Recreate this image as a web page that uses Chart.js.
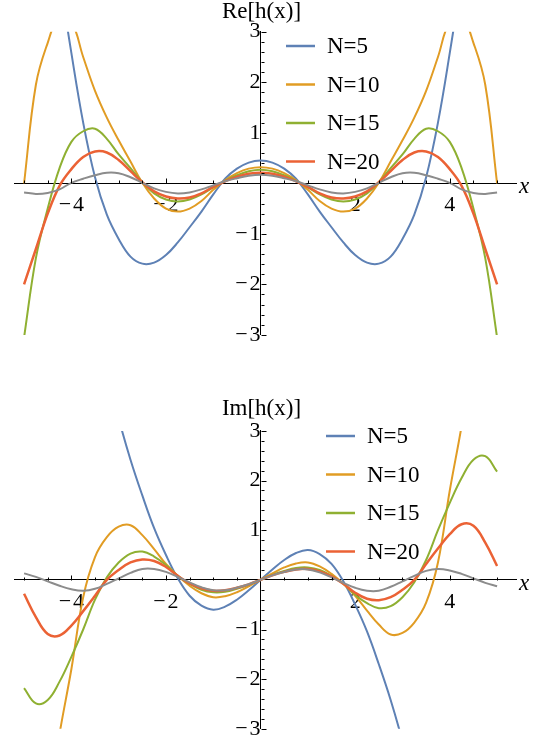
<!DOCTYPE html>
<html lang="en">
<head>
  <meta charset="UTF-8" />
  <title>Re[h(x)] and Im[h(x)]</title>
  <script src="https://cdn.jsdelivr.net/npm/chart.js"></script>
  <style>
    * { margin: 0; padding: 0; box-sizing: border-box; }
    body { background: #fff; width: 541px; height: 748px; overflow: hidden; }
    .panel { position: absolute; left: 0; }
    #reChart { top: 0; }
    #imChart { top: 374px; }
  </style>
</head>
<body>
  <canvas id="reChart" class="panel" width="541" height="374"></canvas>
  <canvas id="imChart" class="panel" width="541" height="374"></canvas>

  <script>
    // sample positions on the x axis
    const xs = [-5, -4.75, -4.5, -4.25, -4, -3.75, -3.5, -3.25, -3, -2.75, -2.5, -2.25, -2, -1.75, -1.5, -1.25, -1, -0.75, -0.5, -0.25,
      0, 0.25, 0.5, 0.75, 1, 1.25, 1.5, 1.75, 2, 2.25, 2.5, 2.75, 3, 3.25, 3.5, 3.75, 4, 4.25, 4.5, 4.75, 5];

    const seriesLabels = ['N=5', 'N=10', 'N=15', 'N=20', ''];
    const seriesColors = ['#5e81b5', '#e19c24', '#8fb032', '#eb6235', '#8c8c8c'];
    const xTickValues = [-4, -2, 2, 4];
    const yTickValues = [-3, -2, -1, 1, 2, 3];

    // Re[h(x)]
    const reN5 = [11, 8, 5.8, 4.1, 2.58, 1.2, 0.12, -0.62, -1.1, -1.45, -1.59, -1.57, -1.42, -1.17, -0.87, -0.56, -0.22, 0.09, 0.29, 0.41,
      0.45, 0.41, 0.29, 0.09, -0.22, -0.56, -0.87, -1.17, -1.42, -1.57, -1.59, -1.45, -1.1, -0.62, 0.12, 1.2, 2.58, 4.1, 5.8, 8, 11];
    const reN10 = [0, 1.95, 2.78, 3.3, 3.2, 2.5, 1.83, 1.3, 0.85, 0.43, 0.01, -0.3, -0.5, -0.56, -0.5, -0.35, -0.13, 0.06, 0.2, 0.29,
      0.32, 0.29, 0.2, 0.06, -0.13, -0.35, -0.5, -0.56, -0.5, -0.3, 0.01, 0.43, 0.85, 1.3, 1.83, 2.5, 3.2, 3.3, 2.78, 1.95, 0];
    const reN15 = [-3.05, -1.48, -0.5, 0.3, 0.82, 1.03, 1.08, 0.88, 0.57, 0.3, 0.02, -0.2, -0.32, -0.36, -0.32, -0.22, -0.08, 0.05, 0.16, 0.24,
      0.27, 0.24, 0.16, 0.05, -0.08, -0.22, -0.32, -0.36, -0.32, -0.2, 0.02, 0.3, 0.57, 0.88, 1.08, 1.03, 0.82, 0.3, -0.5, -1.48, -3.05];
    const reN20 = [-2.0, -1.3, -0.6, -0.05, 0.28, 0.52, 0.63, 0.61, 0.46, 0.24, 0.02, -0.16, -0.26, -0.3, -0.28, -0.2, -0.07, 0.04, 0.13, 0.19,
      0.21, 0.19, 0.13, 0.04, -0.07, -0.2, -0.28, -0.3, -0.26, -0.16, 0.02, 0.24, 0.46, 0.61, 0.63, 0.52, 0.28, -0.05, -0.6, -1.3, -2.0];
    const reExact = [-0.18, -0.21, -0.19, -0.12, 0.01, 0.09, 0.16, 0.21, 0.2, 0.12, 0.01, -0.1, -0.17, -0.2, -0.18, -0.12, -0.04, 0.04, 0.1, 0.15,
      0.17, 0.15, 0.1, 0.04, -0.04, -0.12, -0.18, -0.2, -0.17, -0.1, 0.01, 0.12, 0.2, 0.21, 0.16, 0.09, 0.01, -0.12, -0.19, -0.21, -0.18];

    // Im[h(x)]
    const imN5 = [15.6, 13.4, 11.4, 9.6, 8.0, 6.6, 5.3, 4.2, 3.25, 2.42, 1.7, 1.04, 0.5, 0.03, -0.32, -0.52, -0.6, -0.54, -0.4, -0.21,
      0, 0.21, 0.4, 0.54, 0.6, 0.52, 0.32, -0.03, -0.5, -1.04, -1.7, -2.42, -3.25, -4.2, -5.3, -6.6, -8.0, -9.6, -11.4, -13.4, -15.6];
    const imN10 = [-8.0, -6.2, -4.6, -3.1, -1.8, -0.35, 0.46, 0.86, 1.07, 1.1, 0.9, 0.62, 0.32, 0.08, -0.12, -0.27, -0.35, -0.33, -0.25, -0.13,
      0, 0.13, 0.25, 0.33, 0.35, 0.27, 0.12, -0.08, -0.32, -0.62, -0.9, -1.1, -1.07, -0.86, -0.46, 0.35, 1.8, 3.1, 4.6, 6.2, 8.0];
    const imN15 = [-2.18, -2.49, -2.42, -2.05, -1.55, -1.0, -0.4, 0.05, 0.35, 0.53, 0.57, 0.47, 0.3, 0.08, -0.08, -0.2, -0.25, -0.24, -0.18, -0.1,
      0, 0.1, 0.18, 0.24, 0.25, 0.2, 0.08, -0.08, -0.3, -0.47, -0.57, -0.53, -0.35, -0.05, 0.4, 1.0, 1.55, 2.05, 2.42, 2.49, 2.18];
    const imN20 = [-0.28, -0.75, -1.09, -1.12, -0.92, -0.63, -0.32, 0, 0.2, 0.35, 0.41, 0.38, 0.26, 0.08, -0.07, -0.17, -0.22, -0.21, -0.16, -0.09,
      0, 0.09, 0.16, 0.21, 0.22, 0.17, 0.07, -0.08, -0.26, -0.38, -0.41, -0.35, -0.2, 0, 0.32, 0.63, 0.92, 1.12, 1.09, 0.75, 0.28];
    const imExact = [0.13, 0.06, -0.03, -0.12, -0.19, -0.22, -0.18, -0.08, 0.03, 0.14, 0.22, 0.22, 0.16, 0.06, -0.05, -0.15, -0.21, -0.21, -0.16, -0.09,
      0, 0.09, 0.16, 0.21, 0.21, 0.15, 0.05, -0.06, -0.16, -0.22, -0.22, -0.14, -0.03, 0.08, 0.18, 0.22, 0.19, 0.12, 0.03, -0.06, -0.13];

    // a single family name: a fallback list ends up sans here
    const serif = "'Liberation Serif'";
    const minus = v => (v < 0 ? '\u2212\u200a' + Math.abs(v) : String(v));

    // Mathematica style: inward ticks, axis title on top, "x" label, line legend
    const axisDecor = {
      id: 'axisDecor',
      afterDraw(chart, args, opts) {
        const { ctx, chartArea, scales: { x, y } } = chart;
        const x0 = Math.round(x.getPixelForValue(0)) + 0.5;
        const y0 = Math.round(y.getPixelForValue(0)) + 0.5;
        ctx.save();
        ctx.strokeStyle = '#000';
        ctx.lineWidth = 1;
        ctx.beginPath();
        for (let i = -10; i <= 10; i++) {
          if (i === 0) continue;
          const px = Math.round(x.getPixelForValue(i / 2)) + 0.5;
          const len = i % 4 === 0 ? 5 : 3;
          ctx.moveTo(px, y0);
          ctx.lineTo(px, y0 - len);
        }
        for (let j = -15; j <= 15; j++) {
          if (j === 0) continue;
          const py = Math.round(y.getPixelForValue(j / 5)) + 0.5;
          const len = j % 5 === 0 ? 5 : 3;
          ctx.moveTo(x0, py);
          ctx.lineTo(x0 + len, py);
        }
        ctx.stroke();

        ctx.fillStyle = '#000';
        ctx.font = '23px ' + serif;
        ctx.textAlign = 'center';
        ctx.textBaseline = 'middle';
        ctx.fillText(opts.title, x0, opts.titleY);

        ctx.font = 'italic 23px ' + serif;
        ctx.textAlign = 'left';
        ctx.fillText('x', chartArea.right + 3, y0 + 3);

        // legend
        ctx.font = '23px ' + serif;
        let k = 0;
        chart.data.datasets.forEach(ds => {
          if (!ds.label) return;
          const ly = opts.legendY + k * 38.5;
          ctx.strokeStyle = ds.borderColor;
          ctx.lineWidth = 2.5;
          ctx.beginPath();
          ctx.moveTo(opts.legendX, ly);
          ctx.lineTo(opts.legendX + 29, ly);
          ctx.stroke();
          ctx.fillText(ds.label, opts.legendX + 41, ly + 1);
          k++;
        });
        ctx.restore();
      }
    };

    function makeDatasets(arrs) {
      return arrs.map((arr, i) => ({
        label: seriesLabels[i],
        data: xs.map((xv, k) => ({ x: xv, y: arr[k] })),
        borderColor: seriesColors[i],
        borderWidth: i === 3 ? 2.5 : 2,
        pointRadius: 0,
        tension: 0.4,
        clip: 0,
        order: arrs.length - i
      }));
    }

    function makeChart(id, arrs, padding, decor) {
      return new Chart(document.getElementById(id), {
        type: 'line',
        data: { datasets: makeDatasets(arrs) },
        options: {
          responsive: false,
          animation: false,
          events: [],
          layout: { padding },
          plugins: {
            legend: { display: false },
            tooltip: { enabled: false },
            axisDecor: decor
          },
          scales: {
            x: {
              type: 'linear',
              min: -5.2,
              max: 5.4,
              position: { y: 0 },
              grid: { display: false, drawTicks: false },
              border: { display: true, color: '#000', width: 1 },
              afterBuildTicks: s => { s.ticks = xTickValues.map(v => ({ value: v })); },
              ticks: {
                autoSkip: false,
                maxRotation: 0,
                padding: 9,
                color: '#000',
                font: { family: serif, size: 22 },
                callback: v => minus(v)
              }
            },
            y: {
              type: 'linear',
              min: -3,
              max: 3,
              position: { x: 0 },
              grid: { display: false, drawTicks: false },
              border: { display: true, color: '#000', width: 1 },
              afterBuildTicks: s => { s.ticks = yTickValues.map(v => ({ value: v })); },
              ticks: {
                autoSkip: false,
                padding: 6,
                color: '#000',
                font: { family: serif, size: 22 },
                callback: v => minus(v)
              }
            }
          }
        },
        plugins: [axisDecor]
      });
    }

    makeChart('reChart', [reN5, reN10, reN15, reN20, reExact],
      { left: 14.6, right: 25, top: 31.7, bottom: 39.1 },
      { title: 'Re[h(x)]', titleY: 12, legendX: 286, legendY: 46 });

    makeChart('imChart', [imN5, imN10, imN15, imN20, imExact],
      { left: 14.6, right: 25, top: 56.9, bottom: 13.9 },
      { title: 'Im[h(x)]', titleY: 35, legendX: 326, legendY: 62 });
  </script>
</body>
</html>
